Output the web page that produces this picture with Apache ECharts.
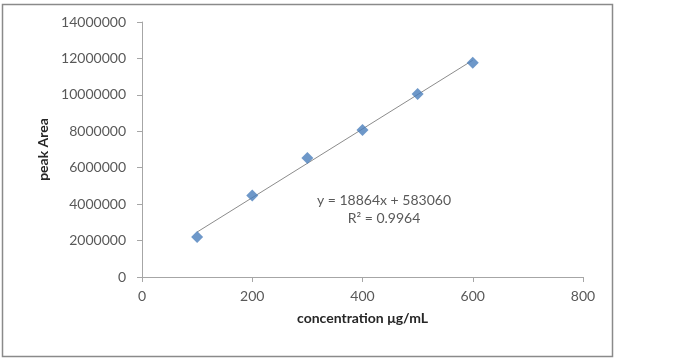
<!DOCTYPE html>
<html>
<head>
<meta charset="utf-8">
<script src="https://cdn.jsdelivr.net/npm/echarts@6/dist/echarts.min.js"></script>
<style>
html,body{margin:0;padding:0;background:#fff;}
#chart{width:688px;height:362px;}
</style>
</head>
<body>
<div id="chart"></div>
<script>
// Data
var concentration = [100, 200, 300, 400, 500, 600];
var peakArea = [2200000, 4470000, 6540000, 8070000, 10050000, 11760000];
var trendSlope = [18864];
var trendIntercept = [583060];
var trendRange = [100, 600];
var equationLines = ['y = 18864x + 583060', 'R² = 0.9964'];

var FONT = 'Lato';
var chart = echarts.init(document.getElementById('chart'));

var scatterData = concentration.map(function (c, i) { return [c, peakArea[i]]; });
var trendData = trendRange.map(function (x) { return [x, trendSlope[0] * x + trendIntercept[0]]; });

chart.setOption({
  animation: false,
  backgroundColor: '#fff',
  graphic: [
    {
      type: 'rect',
      shape: { x: 2.5, y: 4.5, width: 610, height: 352 },
      style: { fill: 'none', stroke: '#8a8a8a', lineWidth: 1.5 },
      silent: true
    },
    {
      type: 'text',
      x: 384, y: 191,
      style: {
        text: equationLines.join('\n'),
        textAlign: 'center',
        font: '14px ' + FONT,
        fill: '#595959',
        lineHeight: 18
      },
      silent: true
    }
  ],
  grid: { left: 142, right: 105, top: 22, bottom: 85 },
  xAxis: {
    type: 'value',
    min: 0, max: 800, interval: 200,
    name: 'concentration μg/mL',
    nameLocation: 'middle',
    nameGap: 34,
    nameTextStyle: { fontFamily: FONT, fontWeight: 'bold', fontSize: 14, color: '#262626' },
    axisLine: { show: true, onZero: false, lineStyle: { color: '#a6a6a6', width: 1 } },
    axisTick: { show: true, length: 5, inside: false, lineStyle: { color: '#a6a6a6' } },
    axisLabel: { fontFamily: FONT, fontSize: 14, color: '#595959', margin: 12 },
    splitLine: { show: false }
  },
  yAxis: {
    type: 'value',
    min: 0, max: 14000000, interval: 2000000,
    name: 'peak Area',
    nameLocation: 'middle',
    nameGap: 92,
    nameRotate: 90,
    nameTextStyle: { fontFamily: FONT, fontWeight: 'bold', fontSize: 14, color: '#262626' },
    axisLine: { show: true, lineStyle: { color: '#a6a6a6', width: 1 } },
    axisTick: { show: true, length: 5, inside: false, lineStyle: { color: '#a6a6a6' } },
    axisLabel: {
      fontFamily: FONT, fontSize: 14, color: '#595959', margin: 16,
      formatter: function (v) { return String(v); }
    },
    splitLine: { show: false }
  },
  series: [
    {
      type: 'line',
      data: trendData,
      showSymbol: false,
      symbol: 'none',
      lineStyle: { color: '#8c8c8c', width: 1 },
      z: 1
    },
    {
      type: 'scatter',
      data: scatterData,
      symbol: 'diamond',
      symbolSize: 12,
      itemStyle: { color: '#4a7ebb' },
      z: 2
    }
  ]
});
</script>
</body>
</html>
